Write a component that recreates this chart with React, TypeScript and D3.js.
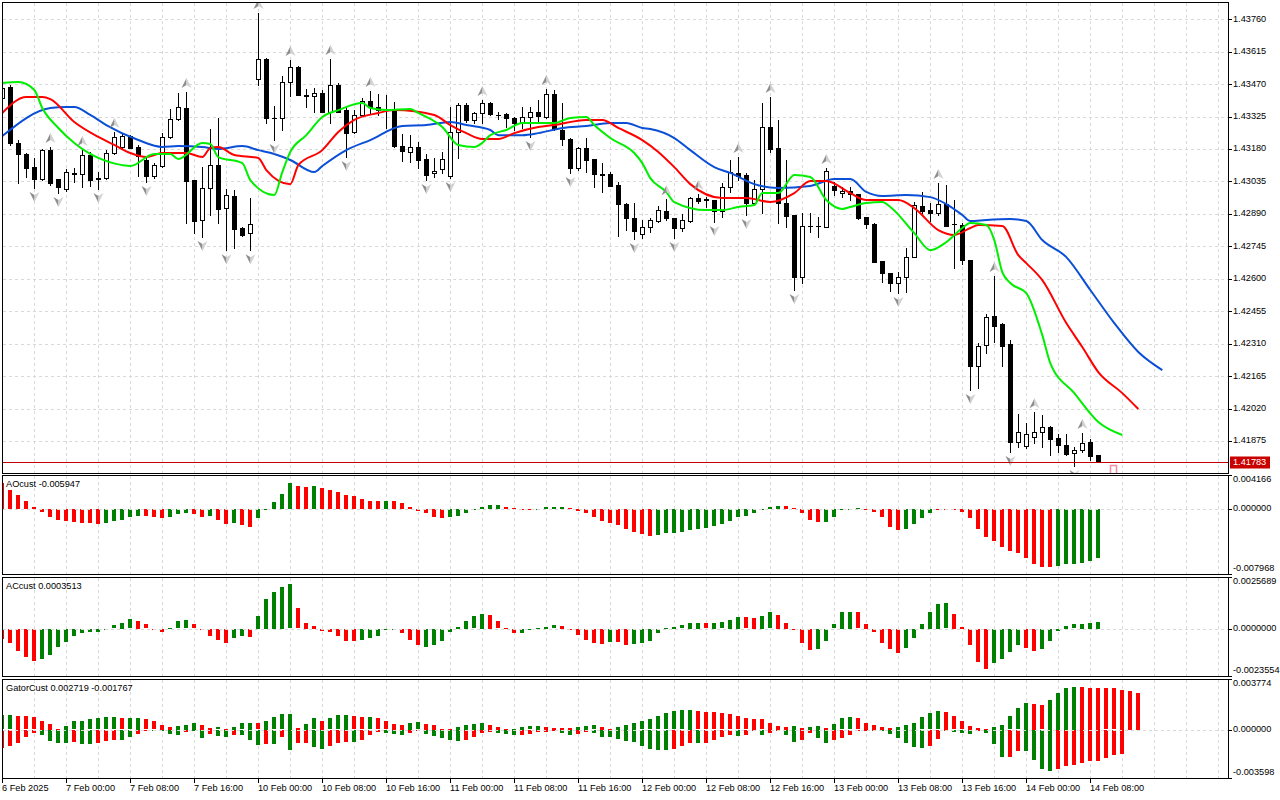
import React from "react";
import * as d3 from "d3";

// time axis: one label every 8 hourly bars, starting at bar 0
const timeLabels = [
  "6 Feb 2025", "7 Feb 00:00", "7 Feb 08:00", "7 Feb 16:00", "10 Feb 00:00", "10 Feb 08:00",
  "10 Feb 16:00", "11 Feb 00:00", "11 Feb 08:00", "11 Feb 16:00", "12 Feb 00:00", "12 Feb 08:00",
  "12 Feb 16:00", "13 Feb 00:00", "13 Feb 08:00", "13 Feb 16:00", "14 Feb 00:00", "14 Feb 08:00",
];

const priceTicks = [
  1.4376, 1.43615, 1.4347, 1.43325, 1.4318, 1.43035, 1.4289, 1.42745, 1.426, 1.42455, 1.4231,
  1.42165, 1.4202, 1.41875,
];
const lastPrice = 1.41783;

const open = [
  1.43408, 1.43457, 1.43207, 1.43158, 1.43099, 1.43046, 1.43175, 1.43046, 1.43001, 1.43073,
  1.43068, 1.43153, 1.4305, 1.4305, 1.43162, 1.43189, 1.43238, 1.43189, 1.43131, 1.43059,
  1.43104, 1.43234, 1.43314, 1.43363, 1.43041, 1.42863, 1.43006, 1.43108, 1.42916, 1.4297,
  1.42827, 1.42804, 1.43493, 1.43582, 1.43319, 1.43319, 1.43479, 1.43546, 1.43421, 1.43417,
  1.4343, 1.43345, 1.43466, 1.43354, 1.43256, 1.43332, 1.43395, 1.43368, 1.43359, 1.4335,
  1.43193, 1.43167, 1.43189, 1.43135, 1.43073, 1.43091, 1.43059, 1.43256, 1.43377, 1.4331,
  1.43341, 1.43386, 1.43332, 1.43336, 1.43319, 1.43296, 1.43323, 1.43345, 1.43323, 1.43426,
  1.43265, 1.43225, 1.43095, 1.43184, 1.43135, 1.43068, 1.43068, 1.43019, 1.42934, 1.42871,
  1.428, 1.42831, 1.42858, 1.42903, 1.42871, 1.42827, 1.42858, 1.42961, 1.42956, 1.42952,
  1.42903, 1.4301, 1.43073, 1.43064, 1.42939, 1.43001, 1.43278, 1.43184, 1.42939, 1.42885,
  1.42608, 1.42836, 1.42836, 1.42831, 1.43015, 1.42983, 1.42992, 1.42979, 1.42876, 1.42845,
  1.42679, 1.42626, 1.42581, 1.42608, 1.42697, 1.42925, 1.42907, 1.42894, 1.42934, 1.42845,
  1.4284, 1.42684, 1.4221, 1.42304, 1.42434, 1.42398, 1.42308, 1.4187, 1.41852, 1.41893,
  1.41915, 1.41937, 1.41888, 1.41857, 1.41821, 1.41834, 1.4187, 1.41812,
];
const high = [
  1.43466, 1.43466, 1.4322, 1.43162, 1.4314, 1.4318, 1.43189, 1.43046, 1.43091, 1.43095,
  1.43175, 1.43167, 1.43077, 1.43175, 1.43256, 1.43247, 1.43242, 1.43198, 1.4314, 1.43117,
  1.43251, 1.43359, 1.4343, 1.43435, 1.43041, 1.43099, 1.43269, 1.43319, 1.43001, 1.42997,
  1.42831, 1.42961, 1.43788, 1.43587, 1.43372, 1.43506, 1.43578, 1.43551, 1.43448, 1.43453,
  1.43444, 1.43582, 1.43475, 1.43372, 1.43354, 1.43408, 1.43439, 1.43426, 1.43421, 1.4339,
  1.43247, 1.43242, 1.43211, 1.43158, 1.4314, 1.43167, 1.43368, 1.43386, 1.43386, 1.43345,
  1.43399, 1.4339, 1.43345, 1.43341, 1.43323, 1.43368, 1.43368, 1.43399, 1.43448, 1.43444,
  1.43386, 1.43229, 1.43189, 1.43229, 1.43135, 1.43117, 1.43077, 1.43032, 1.42939, 1.42939,
  1.42863, 1.42871, 1.42925, 1.42956, 1.42871, 1.42889, 1.42965, 1.42979, 1.42965, 1.42952,
  1.43028, 1.43131, 1.43144, 1.43073, 1.43041, 1.43386, 1.43412, 1.4331, 1.43131, 1.42885,
  1.42894, 1.42894, 1.42876, 1.43095, 1.43032, 1.4301, 1.4301, 1.42979, 1.42876, 1.42849,
  1.42679, 1.42626, 1.4263, 1.42737, 1.42943, 1.42988, 1.42939, 1.43028, 1.43019, 1.42952,
  1.42849, 1.42684, 1.42313, 1.42442, 1.42612, 1.42402, 1.42326, 1.41995, 1.41955, 1.42004,
  1.41991, 1.41942, 1.41906, 1.41906, 1.41848, 1.41911, 1.41884, 1.41812,
];
const low = [
  1.43399, 1.43198, 1.43028, 1.43055, 1.43006, 1.43041, 1.43019, 1.42983, 1.42992, 1.43032,
  1.4301, 1.43015, 1.43001, 1.43046, 1.43158, 1.43184, 1.43184, 1.43059, 1.43032, 1.4305,
  1.43099, 1.43229, 1.4331, 1.42849, 1.42804, 1.42787, 1.42885, 1.42849, 1.42728, 1.42737,
  1.42791, 1.42728, 1.43466, 1.43296, 1.4322, 1.43265, 1.43417, 1.43421, 1.43368, 1.43345,
  1.43345, 1.43296, 1.43345, 1.43144, 1.43251, 1.43327, 1.43341, 1.43332, 1.43274, 1.43189,
  1.43126, 1.43122, 1.43095, 1.43041, 1.43055, 1.43073, 1.4305, 1.4314, 1.43301, 1.43296,
  1.43296, 1.43332, 1.43314, 1.43278, 1.43265, 1.43274, 1.43234, 1.43301, 1.43319, 1.43265,
  1.43198, 1.43073, 1.43086, 1.43077, 1.4301, 1.42988, 1.43015, 1.42791, 1.42818, 1.42778,
  1.42782, 1.42809, 1.42854, 1.42863, 1.42782, 1.42813, 1.42854, 1.42939, 1.42921, 1.42854,
  1.42876, 1.42988, 1.43041, 1.42885, 1.4293, 1.42894, 1.43167, 1.42849, 1.42831, 1.4255,
  1.42581, 1.42809, 1.42787, 1.42831, 1.42974, 1.42965, 1.42952, 1.42867, 1.42827, 1.42675,
  1.42585, 1.42545, 1.42536, 1.42541, 1.42697, 1.42894, 1.42858, 1.42885, 1.42836, 1.42648,
  1.42666, 1.42103, 1.42112, 1.42268, 1.42317, 1.4221, 1.41826, 1.41848, 1.41843, 1.41866,
  1.41848, 1.41812, 1.41826, 1.41812, 1.41763, 1.41826, 1.4179, 1.41785,
];
const close = [
  1.43453, 1.43207, 1.43158, 1.43095, 1.43046, 1.43175, 1.43028, 1.4301, 1.43077, 1.43068,
  1.43153, 1.43041, 1.43046, 1.43162, 1.43234, 1.43238, 1.43184, 1.43149, 1.43059, 1.43108,
  1.43234, 1.43314, 1.43368, 1.43037, 1.42858, 1.43006, 1.43108, 1.42912, 1.42974, 1.42822,
  1.42796, 1.42845, 1.43582, 1.43319, 1.43317, 1.43479, 1.43546, 1.43421, 1.43419, 1.4343,
  1.43345, 1.43466, 1.43345, 1.43251, 1.43332, 1.43395, 1.43368, 1.43354, 1.43357, 1.43193,
  1.43171, 1.43189, 1.43131, 1.43064, 1.43082, 1.43135, 1.43256, 1.43377, 1.4331, 1.43341,
  1.43386, 1.43336, 1.4333, 1.43319, 1.43296, 1.43323, 1.43345, 1.43327, 1.43426, 1.43269,
  1.43225, 1.43095, 1.43184, 1.43131, 1.43068, 1.43064, 1.43015, 1.42934, 1.42871, 1.42813,
  1.42831, 1.42863, 1.42907, 1.42871, 1.42827, 1.42863, 1.42961, 1.42947, 1.42954, 1.42903,
  1.4301, 1.43077, 1.43059, 1.42939, 1.43001, 1.43278, 1.4318, 1.42939, 1.4288, 1.42608,
  1.42836, 1.42834, 1.42838, 1.43082, 1.42997, 1.42992, 1.42979, 1.42871, 1.42845, 1.42675,
  1.42626, 1.42581, 1.42608, 1.42697, 1.4293, 1.42903, 1.42894, 1.42934, 1.42836, 1.42843,
  1.42684, 1.4221, 1.42299, 1.42429, 1.42389, 1.42299, 1.4187, 1.41915, 1.41906, 1.41915,
  1.41937, 1.41884, 1.41857, 1.41817, 1.41834, 1.41866, 1.41808, 1.41783,
];

// bars carrying a fractal arrow
const upFractals = [6, 10, 14, 23, 32, 36, 41, 46, 60, 68, 83, 87, 92, 96, 103, 117, 124, 129, 135];
const downFractals = [4, 7, 12, 18, 25, 28, 31, 34, 43, 53, 56, 66, 71, 79, 84, 89, 93, 99, 112, 121, 126, 134];

// alligator lines, [bar, price]
const jaw: [number, number][] = [
  [0, 1.43238], [6, 1.43363], [8, 1.43368], [9, 1.43368], [11, 1.43332], [13, 1.43287], [17, 1.4322],
  [20, 1.43189], [22, 1.43193], [25, 1.43189], [27, 1.4318], [30, 1.43193], [32, 1.43175], [34, 1.43158],
  [36, 1.43131], [39, 1.43077], [40, 1.43104], [43, 1.43175], [46, 1.4322], [50, 1.43283], [53, 1.43287],
  [56, 1.43301], [58, 1.43287], [61, 1.43265], [62, 1.43242], [65, 1.43242], [67, 1.43251], [70, 1.43274],
  [73, 1.43283], [76, 1.43296], [78, 1.43296], [80, 1.43274], [81, 1.43269], [84, 1.43229], [86, 1.43175],
  [89, 1.43099], [91, 1.43073], [94, 1.43023], [97, 1.43006], [101, 1.43015], [104, 1.43046], [106, 1.43046],
  [108, 1.42988], [110, 1.4297], [113, 1.42974], [116, 1.42965], [118, 1.42934], [120, 1.42885], [121, 1.42858],
  [123, 1.42863], [126, 1.42867], [128, 1.42858], [130, 1.42773], [133, 1.42697], [136, 1.4255], [139, 1.42402],
  [142, 1.42273], [145, 1.42192],
];
const teeth: [number, number][] = [
  [0, 1.43341], [3, 1.43412], [5, 1.43412], [6, 1.43403], [9, 1.43301], [12, 1.43234], [14, 1.43198],
  [16, 1.43162], [18, 1.43144], [20, 1.43162], [23, 1.43162], [25, 1.43144], [26, 1.43184], [27, 1.43189],
  [29, 1.43153], [32, 1.4314], [33, 1.43086], [36, 1.43023], [37, 1.43108], [40, 1.43175], [42, 1.43256],
  [44, 1.4331], [47, 1.43341], [49, 1.43354], [54, 1.43332], [56, 1.43287], [58, 1.43251], [60, 1.43225],
  [62, 1.43225], [64, 1.43251], [67, 1.43278], [69, 1.43287], [73, 1.4331], [75, 1.4331], [77, 1.43274],
  [80, 1.4322], [82, 1.43167], [84, 1.43099], [86, 1.43023], [90, 1.42961], [93, 1.42961], [96, 1.42943],
  [99, 1.42983], [101, 1.43037], [103, 1.43037], [106, 1.42983], [108, 1.42952], [112, 1.42952], [114, 1.42916],
  [117, 1.42818], [119, 1.42796], [121, 1.42827], [122, 1.4284], [125, 1.42836], [127, 1.42706], [128, 1.4267],
  [130, 1.42594], [133, 1.42402], [135, 1.42295], [137, 1.42183], [140, 1.42089], [142, 1.42018],
];
const lips: [number, number][] = [
  [0, 1.43475], [2, 1.43479], [4, 1.43444], [5, 1.43363], [7, 1.43274], [9, 1.43207], [12, 1.4314],
  [15, 1.43108], [16, 1.43104], [19, 1.43158], [21, 1.43158], [22, 1.43135], [25, 1.43207], [26, 1.43202],
  [27, 1.43144], [30, 1.43117], [31, 1.43041], [34, 1.42974], [35, 1.43077], [36, 1.43167], [38, 1.43242],
  [40, 1.43323], [42, 1.43354], [45, 1.43386], [46, 1.43363], [48, 1.43354], [51, 1.43359], [52, 1.43341],
  [55, 1.43278], [57, 1.43198], [59, 1.43189], [60, 1.43207], [61, 1.43242], [63, 1.43265], [65, 1.43296],
  [69, 1.43296], [71, 1.43319], [73, 1.43323], [74, 1.43287], [76, 1.43229], [79, 1.43162], [80, 1.43117],
  [81, 1.4305], [83, 1.42988], [84, 1.42943], [88, 1.42907], [90, 1.42907], [92, 1.42921], [94, 1.4293],
  [95, 1.42983], [97, 1.42983], [99, 1.43064], [101, 1.43055], [103, 1.42952], [105, 1.42912], [106, 1.42921],
  [108, 1.42939], [110, 1.42943], [111, 1.42921], [114, 1.42804], [116, 1.42728], [118, 1.42764], [120, 1.42827],
  [121, 1.42849], [123, 1.4284], [124, 1.42773], [125, 1.4263], [126, 1.42581], [128, 1.42536], [130, 1.42348],
  [131, 1.42223], [134, 1.42089], [137, 1.4196], [140, 1.41902],
];

const aoValues = [
  0.00313, 0.00238, 0.00175, 0.001, 0.00029, -0.00034, -0.00096, -0.00138, -0.0015, -0.00154,
  -0.00166, -0.00175, -0.00179, -0.00171, -0.0015, -0.00129, -0.00104, -0.00088, -0.00091, -0.00096,
  -0.00116, -0.00104, -0.00063, -0.00046, -0.00066, -0.00096, -0.00088, -0.00138, -0.00179, -0.00171,
  -0.002, -0.00221, -0.00116, -0.00009, 0.00091, 0.00188, 0.00313, 0.00279, 0.00271, 0.00279,
  0.00259, 0.00229, 0.00209, 0.00175, 0.00154, 0.00125, 0.00104, 0.001, 0.00103, 0.001,
  0.00071, 0.00021, -0.00021, -0.00054, -0.00096, -0.00109, -0.00096, -0.00084, -0.00046, -0.00013,
  0.00029, 0.0005, 0.00053, 0.00021, 0.00009, 0.00004, 0.00002, 0.00004, 0.00021, 0.00023,
  0.00024, 0.00009, -0.00021, -0.00054, -0.00104, -0.00146, -0.00166, -0.002, -0.00241, -0.00284,
  -0.00304, -0.00334, -0.00316, -0.00296, -0.00295, -0.00284, -0.00263, -0.00241, -0.00229, -0.00213,
  -0.00188, -0.00146, -0.00104, -0.00084, -0.00054, -0.00013, 0.00029, 0.00041, 0.00038, 0.00009,
  -0.00054, -0.00138, -0.00159, -0.00156, -0.00096, -0.00013, -0.00004, 0.00009, -0.00004, -0.00034,
  -0.00096, -0.00221, -0.00254, -0.0025, -0.00188, -0.00116, -0.00054, -0.00006, -0.00004, -0.00013,
  -0.00034, -0.00116, -0.00241, -0.00346, -0.00396, -0.00471, -0.00513, -0.00534, -0.00596, -0.00671,
  -0.00709, -0.00713, -0.007, -0.00671, -0.00669, -0.00663, -0.00638, -0.005947,
];
const aoColors =
  "rrrrrrrrrrrrrgggggrrrgggrrgrrgrrgggggrrgrrrrrrrrgrrrrrrrgggggggrrrrggggrrrrrrrrrrrggggggggggggggggrrrrrgggggrrrrrggggrrrrrrrrrrrrrrrgggggg";

const acValues = [
  -0.000508, -0.000676, -0.001102, -0.001387, -0.00159, -0.001473, -0.001306, -0.000914, -0.000625, -0.000371,
  -0.000203, -0.000168, -0.000152, -0.000015, 0.000168, 0.000305, 0.000472, 0.000391, 0.000218, -0.000066,
  -0.000168, 0.000015, 0.000371, 0.000422, 0.000218, -0.000015, -0.00034, -0.000544, -0.000676, -0.000457,
  -0.000371, -0.000381, 0.000645, 0.001488, 0.001829, 0.002083, 0.0022, 0.001016, 0.000305, 0.000137,
  -0.000086, -0.000168, -0.000371, -0.000594, -0.0006, -0.000544, -0.000457, -0.00034, -0.000036, -0.000025,
  -0.000203, -0.000544, -0.000798, -0.000879, -0.000798, -0.000574, -0.000168, 0.000102, 0.000391, 0.00061,
  0.000726, 0.000676, 0.000356, 0.000015, -0.000218, -0.000203, -0.000066, 0.000015, 0.000102, 0.000168,
  0.000152, -0.000036, -0.00032, -0.000544, -0.000711, -0.000747, -0.000625, -0.00066, -0.000798, -0.000747,
  -0.000696, -0.000594, -0.000188, 0.000015, 0.000086, 0.000168, 0.00029, 0.000295, 0.000269, 0.00029,
  0.00032, 0.000442, 0.000594, 0.000559, 0.000549, 0.000625, 0.000813, 0.000676, 0.000305, -0.000036,
  -0.000696, -0.001031, -0.001016, -0.000574, 0.000218, 0.000828, 0.000833, 0.000813, 0.000239, -0.000137,
  -0.000676, -0.001016, -0.001204, -0.000965, -0.000472, 0.000239, 0.000848, 0.001234, 0.001255, 0.000726,
  0.000086, -0.000777, -0.001641, -0.001966, -0.001712, -0.001509, -0.001153, -0.000798, -0.000965, -0.001102,
  -0.001001, -0.00061, -0.000102, 0.000152, 0.000218, 0.000254, 0.000305, 0.0003513,
];
const acColors =
  "rrrrrggggggggggggrrrrgggrrrrrggrgggggrrrrrrrrgggggrrrggggggggrrrrgggggrrrrrrgrrgggggggggrggggrrggrrrrrgggggrrrrrrggggggrrrrrggggrrgggggggg";

const gatorUp = [
  0.00106, 0.00107, 0.00105, 0.00099, 0.00091, 0.00068, 0.00046, 0.00005, 0.0003, 0.00061,
  0.00068, 0.00076, 0.00084, 0.00091, 0.00093, 0.00084, 0.00085, 0.00086, 0.00076, 0.00061,
  0.00038, 0.00023, 0.0003, 0.00038, 0.00053, 0.00038, 0.00015, 0.00017, 0.00008, 0.00023,
  0.00048, 0.00053, 0.00048, 0.00068, 0.00091, 0.00114, 0.00116, 0.00015, 0.00046, 0.00084,
  0.00068, 0.00084, 0.00106, 0.00108, 0.00099, 0.00091, 0.00093, 0.00084, 0.00061, 0.00046,
  0.00038, 0.00053, 0.00055, 0.00046, 0.00038, 0.00008, 0.00006, 0.00023, 0.00038, 0.00046,
  0.00053, 0.00038, 0.00023, 0.00002, 0.00004, 0.00023, 0.00024, 0.0003, 0.00023, 0.00015,
  0.00014, 0.00013, 0.00023, 0.0003, 0.00032, 0.00023, 0.00005, 0.00023, 0.00038, 0.00053,
  0.00061, 0.00076, 0.00099, 0.00122, 0.00137, 0.00144, 0.00146, 0.00137, 0.00129, 0.00128,
  0.00122, 0.00114, 0.00099, 0.00084, 0.00082, 0.00076, 0.00053, 0.0003, 0.00023, 0.0003,
  0.00015, 0.00023, 0.0003, 0.00015, 0.00046, 0.00084, 0.00091, 0.00084, 0.00053, 0.00038,
  0.00023, 0.00015, 0.00023, 0.00038, 0.00053, 0.00091, 0.00122, 0.00137, 0.00135, 0.00099,
  0.00061, 0.0003, 0.00015, 0.00008, 0.00023, 0.00038, 0.00099, 0.0016, 0.00198, 0.0019,
  0.00182, 0.0022, 0.00274, 0.00312, 0.00319, 0.00318, 0.00312, 0.0031, 0.00309, 0.00308,
  0.00296, 0.00289, 0.002719,
];
const gatorUpColors =
  "ggrrrrrrgggggggrggrrrrgggrrgrgggrggggrggrgggrrgrrrrggrrrrggggrrrggggrrrrgggrrggggggggggrrrrrrrrrrrrgrggrgggrrrrrggggggrrrrrrgggggrrggggrrrrrrrr";

const gatorDown = [
  -0.00131, -0.00119, -0.00097, -0.00051, -0.00021, -0.00036, -0.00081, -0.00097, -0.00098, -0.00091,
  -0.00101, -0.00104, -0.00097, -0.00081, -0.00076, -0.00077, -0.00055, -0.0003, -0.0001, -0.00005,
  -0.00006, -0.00028, -0.00036, -0.00015, -0.00008, -0.00059, -0.00028, -0.00043, -0.00051, -0.00036,
  -0.00037, -0.00076, -0.00114, -0.00104, -0.00105, -0.00051, -0.00152, -0.00097, -0.00096, -0.00127,
  -0.00142, -0.00119, -0.00097, -0.00089, -0.0009, -0.00074, -0.00036, -0.00013, -0.00021, -0.00028,
  -0.00036, -0.00021, -0.00005, -0.00028, -0.00043, -0.00059, -0.00076, -0.00081, -0.00074, -0.00051,
  -0.00021, -0.00013, -0.00021, -0.00028, -0.00036, -0.00035, -0.00028, -0.00013, -0.00012, -0.00011,
  -0.00021, -0.00036, -0.00028, -0.00013, -0.00021, -0.00051, -0.00052, -0.00066, -0.00081, -0.00091,
  -0.00119, -0.00142, -0.0015, -0.00152, -0.00142, -0.00119, -0.00097, -0.00098, -0.00097, -0.00074,
  -0.00051, -0.00036, -0.00043, -0.00036, -0.00005, -0.00036, -0.00021, -0.00005, -0.00036, -0.00089,
  -0.00074, -0.00021, -0.00059, -0.00097, -0.00074, -0.00059, -0.00036, -0.00005, -0.00005, -0.00004,
  -0.00005, -0.00028, -0.00059, -0.00097, -0.00127, -0.00135, -0.00119, -0.00066, -0.00001, -0.00013,
  -0.00021, -0.00028, -0.00005, -0.00021, -0.00104, -0.00203, -0.00202, -0.00157, -0.00158, -0.00226,
  -0.00287, -0.00302, -0.00287, -0.00271, -0.00264, -0.00249, -0.00234, -0.00233, -0.00211, -0.00188,
  -0.001767,
];
const gatorDownColors =
  "rrrrrggggrggrrrggrrggggrggrggrgggrgrgrrggrrrgrrrgggrrgggggrrrrgggrrrrrggrrggggggggggrrrgrrrrgrrgrrggrrggrrrrrrggggggrrrgggrgggrrggggrrrrrrrrr";

const aoTicks = [0.004166, 0, -0.007968];
const acTicks = [0.0025689, 0, -0.0023554];
const gatorTicks = [0.003774, 0, -0.003598];

const GREEN = "#008000";
const RED = "#ff0000";
const GRID = "#d9d9d9";
const FONT = "'Liberation Sans', Arial, sans-serif";
const FS = 9.2;
const RIGHT = 1228;

export default function App() {
  const x = d3.scaleLinear().domain([0, 153]).range([2.3, 2.3 + 8 * 153]);
  const yMain = d3.scaleLinear().domain([1.41732, 1.43837]).range([473, 2]);
  const yAO = d3.scaleLinear().domain([-0.007968, 0.004166]).range([574, 475]);
  const yAC = d3.scaleLinear().domain([-0.0023554, 0.0025689]).range([676, 577]);
  const yGator = d3.scaleLinear().domain([-0.003598, 0.003774]).range([778, 679]);

  const cx = (i: number) => Math.round(x(i));
  const px = (v: number) => Math.round(v) + 0.5;

  const panels: [number, number][] = [
    [2, 473],
    [475, 574],
    [577, 676],
    [679, 778],
  ];
  const gridIdx = d3.range(4, 154, 4);

  const alligator = d3
    .line<[number, number]>()
    .x((d) => x(d[0]))
    .y((d) => yMain(d[1]))
    .curve(d3.curveMonotoneX);

  const bars = (values: number[], colors: string, y: d3.ScaleLinear<number, number>, key: string) =>
    values.map((v, i) => {
      const y0 = y(0);
      const y1 = y(v);
      const top = Math.round(Math.min(y0, y1));
      const h = Math.max(1, Math.round(Math.abs(y1 - y0)));
      return (
        <rect
          key={key + i}
          x={cx(i) - 2}
          y={v >= 0 ? top : Math.round(y0)}
          width={4}
          height={h}
          fill={colors[i] === "g" ? GREEN : RED}
        />
      );
    });

  const axisLabels = (ticks: number[], y: d3.ScaleLinear<number, number>, digits: number) =>
    ticks.map((t, k) => {
      const ty = y(t) + (k === 0 ? 5 : k === ticks.length - 1 ? -5 : 0);
      return (
        <g key={"t" + digits + k}>
          <line x1={RIGHT} x2={RIGHT + 4} y1={px(y(t))} y2={px(y(t))} stroke="#000" />
          <text x={RIGHT + 5} y={ty} dominantBaseline="middle">
            {t.toFixed(digits)}
          </text>
        </g>
      );
    });

  const upArrow = (i: number) => {
    const ax = cx(i) + 0.5;
    const ay = yMain(high[i]) - 9;
    return (
      <g key={"u" + i} transform={`translate(${ax},${ay})`}>
        <path d="M0,-5L-5,5L0,2Z" fill="#8e8e8e" />
        <path d="M0,-5L5,5L0,2Z" fill="#d2d2d2" />
      </g>
    );
  };
  const downArrow = (i: number) => {
    const ax = cx(i) + 0.5;
    const ay = yMain(low[i]) + 9;
    return (
      <g key={"d" + i} transform={`translate(${ax},${ay})`}>
        <path d="M0,5L-5,-5L0,-2Z" fill="#8e8e8e" />
        <path d="M0,5L5,-5L0,-2Z" fill="#d2d2d2" />
      </g>
    );
  };

  const lastY = px(yMain(lastPrice));

  return (
    <div>
      <style>{"body{margin:0}"}</style>
      <svg width={1280} height={800} style={{ display: "block", background: "#fff" }} fontFamily={FONT} fontSize={FS}>
        <defs>
          {panels.map(([t, b], k) => (
            <clipPath id={"clip" + k} key={"c" + k}>
              <rect x={2.5} y={t + 0.5} width={RIGHT - 2.5} height={b - t} />
            </clipPath>
          ))}
        </defs>

        {/* grid */}
        {panels.map(([t, b], k) =>
          gridIdx.map((i) => (
            <line key={"g" + k + "-" + i} x1={px(x(i))} x2={px(x(i))} y1={t + 1} y2={b} stroke={GRID} strokeDasharray="3,3" />
          ))
        )}
        {priceTicks.map((p) => (
          <line key={"h" + p} x1={3} x2={RIGHT} y1={px(yMain(p))} y2={px(yMain(p))} stroke={GRID} strokeDasharray="3,3" />
        ))}

        {/* price panel */}
        <g clipPath="url(#clip0)">
          {open.map((o, i) => {
            const c = close[i];
            const xx = cx(i);
            const yt = Math.round(yMain(Math.max(o, c)));
            const yb = Math.round(yMain(Math.min(o, c)));
            const bull = c > o;
            return (
              <g key={"k" + i}>
                <line x1={xx + 0.5} x2={xx + 0.5} y1={Math.round(yMain(high[i]))} y2={Math.round(yMain(low[i])) + 1} stroke="#000" />
                {yb - yt < 1 ? (
                  <line x1={xx - 2} x2={xx + 3} y1={yt + 0.5} y2={yt + 0.5} stroke="#000" />
                ) : bull ? (
                  <rect x={xx - 1.5} y={yt + 0.5} width={4} height={yb - yt} fill="#fff" stroke="#000" />
                ) : (
                  <rect x={xx - 2} y={yt} width={5} height={yb - yt + 1} fill="#000" />
                )}
              </g>
            );
          })}
          <path d={alligator(jaw) ?? ""} fill="none" stroke="#0a4fd6" strokeWidth={2} />
          <path d={alligator(teeth) ?? ""} fill="none" stroke="#ff0000" strokeWidth={2} />
          <path d={alligator(lips) ?? ""} fill="none" stroke="#00ee00" strokeWidth={2} />
          {upFractals.map(upArrow)}
          {downFractals.map(downArrow)}
          <line x1={3} x2={RIGHT} y1={lastY} y2={lastY} stroke="#c00000" />
          <rect x={cx(139) - 3.5} y={465.5} width={6} height={9} fill="#fff" stroke="#f58ca0" strokeWidth={1.5} />
        </g>

        {/* AO */}
        <g clipPath="url(#clip1)">
          {bars(aoValues, aoColors, yAO, "ao")}
          <line x1={3} x2={RIGHT} y1={px(yAO(0))} y2={px(yAO(0))} stroke={GRID} strokeDasharray="3,3" />
        </g>
        {/* AC */}
        <g clipPath="url(#clip2)">
          {bars(acValues, acColors, yAC, "ac")}
          <line x1={3} x2={RIGHT} y1={px(yAC(0))} y2={px(yAC(0))} stroke={GRID} strokeDasharray="3,3" />
        </g>
        {/* Gator */}
        <g clipPath="url(#clip3)">
          {bars(gatorUp, gatorUpColors, yGator, "gu")}
          {bars(gatorDown, gatorDownColors, yGator, "gd")}
          <line x1={3} x2={RIGHT} y1={px(yGator(0))} y2={px(yGator(0))} stroke={GRID} strokeDasharray="3,3" />
        </g>

        {/* frames */}
        {panels.map(([t, b], k) => (
          <rect key={"f" + k} x={2.5} y={t + 0.5} width={RIGHT - 2} height={b - t} fill="none" stroke="#000" />
        ))}

        {/* panel titles */}
        <text x={6} y={484.5} dominantBaseline="middle">{`AOcust ${aoValues[aoValues.length - 1].toFixed(6)}`}</text>
        <text x={6} y={586.5} dominantBaseline="middle">{`ACcust ${acValues[acValues.length - 1].toFixed(7)}`}</text>
        <text x={6} y={688.5} dominantBaseline="middle">
          {`GatorCust ${gatorUp[gatorUp.length - 1].toFixed(6)} ${gatorDown[gatorDown.length - 1].toFixed(6)}`}
        </text>

        {/* price axis */}
        {priceTicks.map((p) => (
          <g key={"p" + p}>
            <line x1={RIGHT} x2={RIGHT + 4} y1={px(yMain(p))} y2={px(yMain(p))} stroke="#000" />
            <text x={RIGHT + 5} y={yMain(p)} dominantBaseline="middle">
              {p.toFixed(5)}
            </text>
          </g>
        ))}
        <rect x={RIGHT + 2} y={lastY - 6} width={40} height={12} fill="#c80000" />
        <text x={RIGHT + 5} y={lastY} dominantBaseline="middle" fill="#fff">
          {lastPrice.toFixed(5)}
        </text>
        {axisLabels(aoTicks, yAO, 6)}
        {axisLabels(acTicks, yAC, 7)}
        {axisLabels(gatorTicks, yGator, 6)}

        {/* time axis */}
        {timeLabels.map((lab, k) => {
          const i = k * 8;
          return (
            <g key={"x" + k}>
              <line x1={px(x(i))} x2={px(x(i))} y1={778} y2={783} stroke="#000" />
              <text x={cx(i)} y={789} dominantBaseline="middle">
                {lab}
              </text>
            </g>
          );
        })}
      </svg>
    </div>
  );
}
